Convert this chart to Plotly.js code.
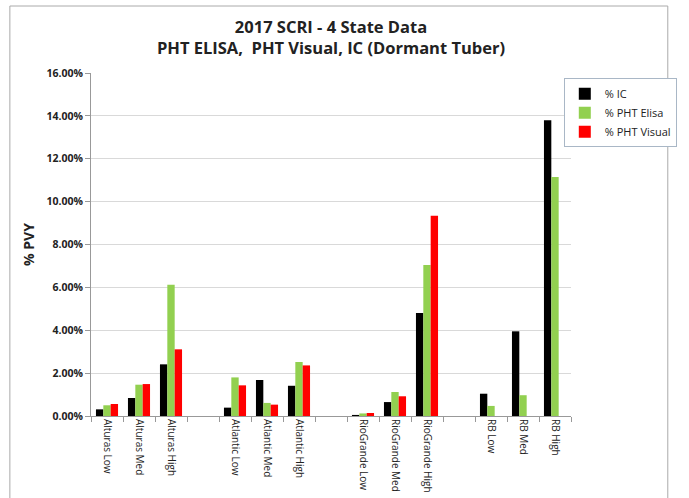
<!DOCTYPE html>
<html><head><meta charset="utf-8">
<script src="https://cdn.plot.ly/plotly-3.0.1.min.js"></script>
<style>html,body{margin:0;padding:0;background:#fff}#chart{width:689px;height:498px}</style>
</head><body><div id="chart"></div>
<script>
const categories = ['Alturas Low','Alturas Med','Alturas High',' ',
  'Atlantic Low','Atlantic Med','Atlantic High','  ',
  'RioGrande Low','RioGrande Med','RioGrande High','   ',
  'RB Low','RB Med','RB High'];
const icValues     = [0.31,0.84,2.41,null,0.39,1.68,1.41,null,0.05,0.65,4.80,null,1.04,3.95,13.80];
const elisaValues  = [0.50,1.46,6.12,null,1.80,0.61,2.52,null,0.12,1.12,7.04,null,0.47,0.97,11.15];
const visualValues = [0.56,1.49,3.11,null,1.43,0.53,2.36,null,0.14,0.92,9.34,null,0,0,0];
const seriesNames = ['% IC','% PHT Elisa','% PHT Visual'];
const yTickVals = [0,2,4,6,8,10,12,14,16];
const yTickText = ['0.00%','2.00%','4.00%','6.00%','8.00%','10.00%','12.00%','14.00%','16.00%'];

const toFrac = a => a.map(v => v === null ? null : v/100);
const colors = ['#000000','#92d050','#ff0000'];
const data = [icValues, elisaValues, visualValues].map((vals,i)=>({
  type:'bar', x:categories, y:toFrac(vals), name:seriesNames[i],
  marker:{color:colors[i]}
}));

const layout = {
  width:689, height:498,
  margin:{l:91, r:107, t:73, b:82},
  paper_bgcolor:'#fff', plot_bgcolor:'#fff',
  font:{family:'Open Sans, sans-serif', color:'#222'},
  title:{text:'<b>2017 SCRI - 4 State Data</b><br><b>PHT ELISA,  PHT Visual, IC (Dormant Tuber)</b>',
    x:0.5, xanchor:'center', xref:'paper', yref:'container', y:1-33/498, yanchor:'top',
    font:{size:16.5, color:'#222', family:'Open Sans, sans-serif'}},
  barmode:'group', bargap:0.31, bargroupgap:0,
  xaxis:{type:'category', categoryorder:'array', categoryarray:categories,
    tickangle:90, tickfont:{size:10, color:'#222'},
    ticks:'outside', tickson:'boundaries', ticklen:5, tickcolor:'#999',
    showline:true, linecolor:'#999', linewidth:1, showgrid:false, fixedrange:true},
  yaxis:{range:[0,0.16], tickvals:yTickVals.map(v=>v/100), ticktext:yTickText,
    tickfont:{size:10.5, color:'#222', family:'Open Sans, sans-serif', weight:'bold'},
    ticks:'outside', ticklen:5, tickcolor:'#999',
    showline:true, linecolor:'#999', linewidth:1,
    showgrid:true, gridcolor:'#d9d9d9', gridwidth:1, zeroline:false,
    title:{text:'<b>% PVY</b>', font:{size:14, color:'#222'}, standoff:8}},
  legend:{x:0.985, xanchor:'left', y:0.985, yanchor:'top',
    bgcolor:'#fff', bordercolor:'#a9b7c6', borderwidth:1,
    font:{size:11, color:'#222', family:'Open Sans, sans-serif'},
    itemwidth:30, tracegroupgap:4},
  shapes:[{type:'rect', xref:'paper', yref:'paper',
    x0:(8-91)/491, x1:(681-91)/491, y0:(416-510)/343, y1:(416-6)/343,
    line:{color:'#aaaaaa', width:1}, fillcolor:'rgba(0,0,0,0)', layer:'below'}],
  showlegend:true
};
Plotly.newPlot('chart', data, layout, {displayModeBar:false, staticPlot:true});
</script></body></html>
